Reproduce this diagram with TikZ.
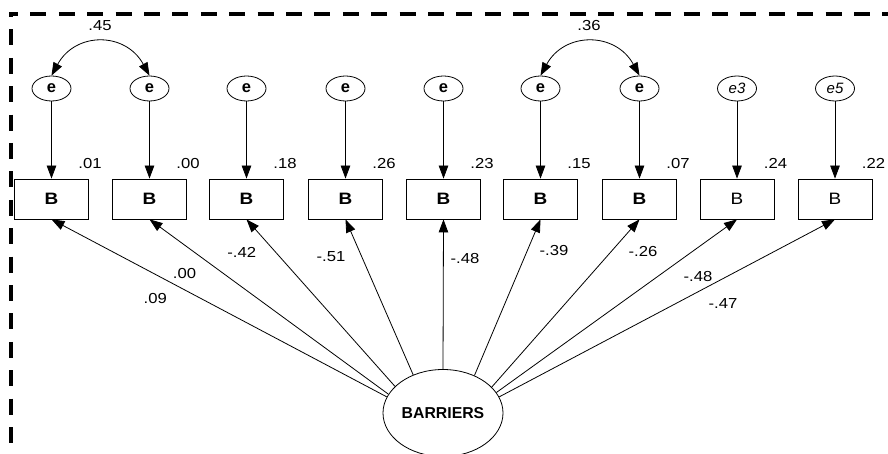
\documentclass[tikz,border=0pt]{standalone}
\usepackage{fontspec}
\setmainfont{Liberation Sans}
\newfontfamily\widefont[FakeStretch=1.15]{Liberation Sans}
\usetikzlibrary{arrows.meta,shapes.geometric}
\begin{document}
\begin{tikzpicture}[x=1pt,y=-1pt,
  obs/.style={draw, line width=0.8pt, minimum width=74pt, minimum height=40pt, inner sep=0pt, font=\widefont\fontsize{16.5}{16.5}\selectfont\bfseries},
  obsn/.style={obs, font=\widefont\fontsize{16.5}{16.5}\selectfont},
  err/.style={draw, ellipse, line width=0.8pt, minimum width=39pt, minimum height=25pt, inner sep=0pt, font=\fontsize{16.5}{16.5}\selectfont\bfseries},
  errn/.style={err, font=\fontsize{15}{15}\selectfont\itshape},
  lat/.style={draw, ellipse, line width=0.8pt, minimum width=120pt, minimum height=87pt, inner sep=0pt, font=\fontsize{15.8}{15.8}\selectfont\bfseries},
  lbl/.style={font=\widefont\fontsize{14.5}{14.5}\selectfont, inner sep=0pt},
  arr/.style={-{Triangle[length=13pt,width=9.5pt]}, line width=0.8pt},
  darr/.style={{Triangle[length=13pt,width=9.5pt]}-{Triangle[length=13pt,width=9.5pt]}, line width=0.8pt},
  border/.style={line width=3.5pt, dash pattern=on 16pt off 12.4pt}]
\useasboundingbox (0,0) rectangle (888,454);
% dashed frame
\draw[border, dash phase=7.25pt] (9.25,14) -- (888,14);
\draw[border, dash phase=13pt] (11,14) -- (11,460);
% observed boxes
\node[obs]  (b1) at (51.5,199) {B};
\node[obs]  (b2) at (149.5,199) {B};
\node[obs]  (b3) at (246.5,199) {B};
\node[obs]  (b4) at (345.5,199) {B};
\node[obs]  (b5) at (443.5,199) {B};
\node[obs]  (b6) at (540.5,199) {B};
\node[obs]  (b7) at (639.5,199) {B};
\node[obsn] (b8) at (737,199) {B};
\node[obsn] (b9) at (835,199) {B};
% error terms
\node[err]  (e1) at (51.5,88.5) {e};
\node[err]  (e2) at (149.5,88.5) {e};
\node[err]  (e3) at (246.5,88.5) {e};
\node[err]  (e4) at (345.5,88.5) {e};
\node[err]  (e5) at (443.5,88.5) {e};
\node[err]  (e6) at (540.5,88.5) {e};
\node[err]  (e7) at (639.5,88.5) {e};
\node[errn] (e8) at (737,88.5) {e3};
\node[errn] (e9) at (835,88.5) {e5};
% squared multiple correlations
\node[lbl] (r1) at (90,163.5) {.01};
\node[lbl] (r2) at (188,163.5) {.00};
\node[lbl] (r3) at (285,163.5) {.18};
\node[lbl] (r4) at (384,163.5) {.26};
\node[lbl] (r5) at (482,163.5) {.23};
\node[lbl] (r6) at (579,163.5) {.15};
\node[lbl] (r7) at (678,163.5) {.07};
\node[lbl] (r8) at (775.5,163.5) {.24};
\node[lbl] (r9) at (873.5,163.5) {.22};
% error arrows
\foreach \i in {1,...,9} \draw[arr] (e\i.south) -- (b\i.north);
% covariances
\draw[darr] (e1.north) .. controls +(24,-44) and +(-24,-44) .. (e2.north);
\draw[darr] (e6.north) .. controls +(24,-44) and +(-24,-44) .. (e7.north);
\node[lbl] (c1) at (100,25.7) {.45};
\node[lbl] (c2) at (589,25.7) {.36};
% latent
\node[lat] (bar) at (443,413) {BARRIERS};
\foreach \i/\a in {1/164.6,2/161.3,3/151.6,4/128.7,5/90,6/50.4,7/28.9,8/21.6,9/16.4}
  \draw[arr] (bar.\a) -- (b\i.south);
% loadings
\node[lbl] (l1) at (155.3,299) {.09};
\node[lbl] (l2) at (184.5,274) {.00};
\node[lbl] (l3) at (241.7,252) {-.42};
\node[lbl] (l4) at (331,256.3) {-.51};
\node[lbl] (l5) at (465,258.8) {-.48};
\node[lbl] (l6) at (554,250.8) {-.39};
\node[lbl] (l7) at (643,252) {-.26};
\node[lbl] (l8) at (698,276.5) {-.48};
\node[lbl] (l9) at (723,303.3) {-.47};
\end{tikzpicture}
\end{document}
